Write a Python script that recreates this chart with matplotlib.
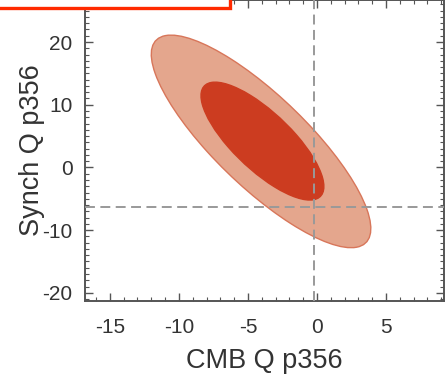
import numpy as np
import matplotlib.pyplot as plt
from matplotlib.patches import Ellipse, Rectangle
from matplotlib.ticker import MultipleLocator

# contour ellipses: centre, half-extent in x / y, correlation
centre_x = [-4.05, -3.95]
centre_y = [4.15, 4.2]
half_x = [7.95, 4.45]
half_y = [16.95, 9.4]
rhos = [-0.82, -0.77]
fills = ['#e4a68d', '#cc3c20']
edges = ['#d8765a', '#cc3c20']

# fiducial / reference values (dashed lines)
ref_x = -0.2
ref_y = -6.3

xticks = [-15, -10, -5, 0, 5]
yticks = [-20, -10, 0, 10, 20]

plt.rcParams['font.family'] = ['Liberation Sans', 'DejaVu Sans']

fig = plt.figure(figsize=(4.45, 3.77), dpi=100)
ax = fig.add_axes([85 / 445, 1 - 301 / 377, 359 / 445, 301 / 377])

for cx, cy, a, b, r, fc, ec in zip(centre_x, centre_y, half_x, half_y, rhos, fills, edges):
    cov = np.array([[a * a, r * a * b], [r * a * b, b * b]])
    vals, vecs = np.linalg.eigh(cov)
    ang = np.degrees(np.arctan2(vecs[1, 1], vecs[0, 1]))
    ell = Ellipse((cx, cy), 2 * np.sqrt(vals[1]), 2 * np.sqrt(vals[0]), angle=ang,
                  facecolor=fc, edgecolor=ec, lw=1.0, zorder=2)
    ax.add_patch(ell)

ax.axvline(ref_x, color='#999999', lw=1.4, dashes=(5.1, 2.8), zorder=3)
ax.axhline(ref_y, color='#999999', lw=1.4, dashes=(5.1, 2.8), zorder=3)

ax.set_xlim(-16.8, 9.2)
ax.set_ylim(-21.3, 26.7)
ax.set_xticks(xticks)
ax.set_xticklabels([str(t) for t in xticks])
ax.set_yticks(yticks)
ax.set_yticklabels([str(t) for t in yticks])
ax.xaxis.set_minor_locator(MultipleLocator(1))
ax.yaxis.set_minor_locator(MultipleLocator(1))
ax.tick_params(which='both', direction='in', top=True, right=True, color='#555555',
               labelsize=15, labelcolor='#333333')
ax.tick_params(which='major', length=6, width=1.0)
ax.tick_params(which='minor', length=3, width=0.8)
ax.tick_params(axis='x', which='major', pad=12.5)
ax.tick_params(axis='y', which='major', pad=9)
for s in ax.spines.values():
    s.set_color('#555555')
    s.set_linewidth(1.4)

ax.set_xlabel('CMB Q p356', fontsize=19.5, color='#333333', labelpad=8)
ax.set_ylabel('Synch Q p356', fontsize=19.5, color='#333333', labelpad=-2)

# red frame in the top-left corner
fig.add_artist(Rectangle((-0.02, 1 - 7.5 / 377), 0.02 + 229.5 / 445, 0.05,
                         transform=fig.transFigure, facecolor='white',
                         edgecolor='#ff2a00', lw=2.4, clip_on=False, zorder=10))

fig.savefig('out.png', dpi=100)
